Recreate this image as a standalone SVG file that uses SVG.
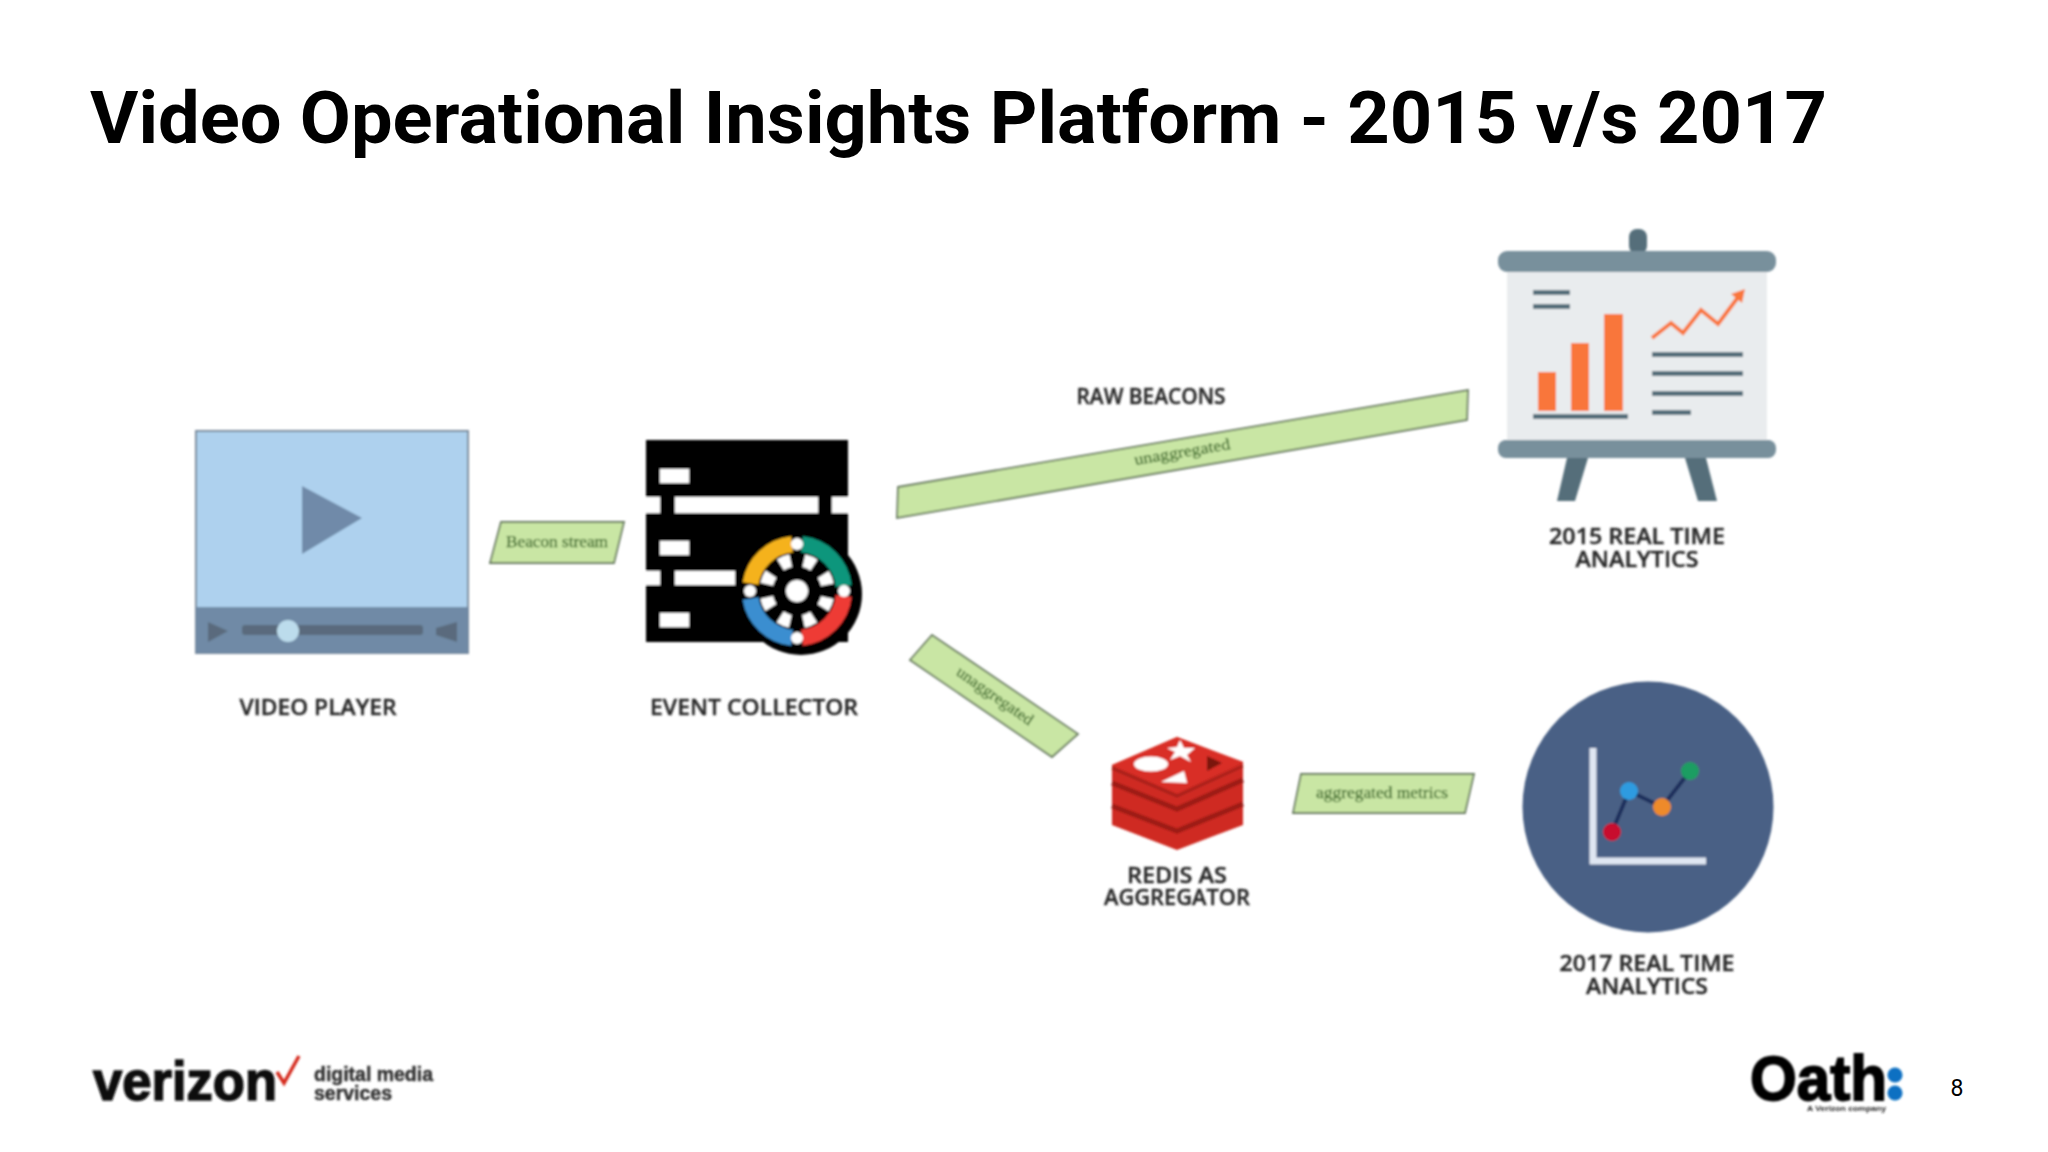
<svg xmlns="http://www.w3.org/2000/svg" width="2048" height="1152" viewBox="0 0 2048 1152">
<defs>
<filter id="soft" x="-5%" y="-5%" width="110%" height="110%"><feGaussianBlur stdDeviation="0.8"/></filter>
</defs>
<style>
.title{font-family:Roboto,"Liberation Sans",sans-serif;font-weight:700;font-size:72px;fill:#000}
.cap{font-family:"Open Sans","Liberation Sans",sans-serif;font-weight:600;font-size:22px;fill:#2b2b2b;stroke:#2b2b2b;stroke-width:.4;text-anchor:middle}
.edge{fill:#c9e6a4;stroke:#66795f;stroke-width:1.8}
.elabel{font-family:"Liberation Serif",serif;font-size:16px;fill:#3f6b2b;stroke:#3f6b2b;stroke-width:.25;text-anchor:middle}
.brd{fill:#78909c}
.dk{fill:#546e7a}
.or{fill:#f9763a}
.seg{fill:none;stroke-width:16}
.hole{fill:#fff}
.logo{font-family:"Liberation Sans",sans-serif;font-weight:700}
.band{fill:none;stroke:#9c1b13;stroke-width:5}
</style>
<rect width="2048" height="1152" fill="#fff"/>
<text class="title" x="90" y="143" textLength="1737" lengthAdjust="spacingAndGlyphs">Video Operational Insights Platform - 2015 v/s 2017</text>
<g filter="url(#soft)">
<g id="connectors">
<g id="edge-beacon-stream"><polygon class="edge" points="501,522 624,522 614,563 490,563"/><text class="elabel" x="557" y="547" textLength="102" lengthAdjust="spacingAndGlyphs">Beacon stream</text></g>
<g id="edge-raw"><polygon class="edge" points="898,487 1468,390 1467,420 897,518"/><text class="elabel" transform="translate(1183,457) rotate(-9.6)" textLength="97" lengthAdjust="spacingAndGlyphs">unaggregated</text></g>
<g id="edge-unaggregated"><polygon class="edge" points="932,635 1078,734 1052,757 910,660"/><text class="elabel" transform="translate(992,700) rotate(35)" textLength="90" lengthAdjust="spacingAndGlyphs">unaggregated</text></g>
<g id="edge-aggregated"><polygon class="edge" points="1301,774 1474,774 1465,813 1293,813"/><text class="elabel" x="1382" y="798" textLength="132" lengthAdjust="spacingAndGlyphs">aggregated metrics</text></g>
</g>
<g id="video-player">
<rect x="196" y="431" width="272" height="222" fill="#aed1ee" stroke="#7c8c9c" stroke-width="2"/>
<rect x="196" y="607" width="272" height="46" fill="#708aa6"/>
<polygon points="302,486 362,518 302,554" fill="#6f8aa9"/>
<polygon points="208,622 228,631 208,642" fill="#5a6b7d"/>
<rect x="242" y="625" width="181" height="10" rx="3" fill="#5a6b7d"/>
<circle cx="288" cy="631" r="11" fill="#bcdcec"/>
<polygon points="457,622 457,642 436,635 436,628" fill="#5a6b7d"/>
<text class="cap" x="318" y="715" textLength="157" lengthAdjust="spacingAndGlyphs">VIDEO PLAYER</text>
</g>
<g id="event-collector">
<rect x="646" y="440" width="202" height="202" fill="#000"/>
<g fill="#fff">
<rect x="660" y="469" width="29" height="14"/><rect x="660" y="541" width="29" height="14"/><rect x="660" y="613" width="29" height="14"/>
<rect x="646" y="497" width="14" height="16"/><rect x="675" y="497" width="143" height="16"/><rect x="832" y="497" width="16" height="16"/>
<rect x="646" y="571" width="14" height="14"/><rect x="675" y="571" width="60" height="14"/>
</g>
<circle cx="801" cy="594" r="61" fill="#000"/>
<circle cx="797" cy="591" r="31" fill="none" stroke="#fff" stroke-width="13" stroke-dasharray="11 13.35" stroke-dashoffset="-6.7"/>
<path class="seg" stroke="#f5b21d" d="M750.6,583.6A47,47 0 0 1 792.1,544.3"/>
<path class="seg" stroke="#11967b" d="M801.9,544.3A47,47 0 0 1 843.7,586.1"/>
<path class="seg" stroke="#ee3b34" d="M843.7,595.9A47,47 0 0 1 801.9,637.7"/>
<path class="seg" stroke="#3b8ed0" d="M792.1,637.7A47,47 0 0 1 750.6,598.4"/>
<g class="hole">
<circle cx="797" cy="591" r="11"/>
<circle cx="797" cy="544" r="6"/><circle cx="844" cy="591" r="6"/><circle cx="797" cy="638" r="6"/><circle cx="750" cy="591" r="6"/>
</g>
<text class="cap" x="754" y="715" textLength="208" lengthAdjust="spacingAndGlyphs">EVENT COLLECTOR</text>
</g>
<g id="analytics-2015">
<rect class="dk" x="1629" y="229" width="18" height="25" rx="8"/>
<rect x="1507" y="268" width="260" height="176" fill="#e9ecee"/>
<rect class="brd" x="1498" y="251" width="278" height="21" rx="9"/>
<rect class="brd" x="1498" y="440" width="278" height="18" rx="8"/>
<polygon class="dk" points="1567,458 1588,458 1575,501 1557,501"/>
<polygon class="dk" points="1685,458 1706,458 1717,501 1698,501"/>
<rect class="dk" x="1533" y="290" width="37" height="5"/><rect class="dk" x="1533" y="304" width="37" height="5"/>
<rect class="or" x="1538" y="372" width="18" height="39"/><rect class="or" x="1571" y="343" width="18" height="68"/><rect class="or" x="1604" y="314" width="19" height="97"/>
<rect class="dk" x="1533" y="414" width="95" height="5"/>
<rect class="dk" x="1652" y="352" width="91" height="5"/><rect class="dk" x="1652" y="371" width="91" height="5"/><rect class="dk" x="1652" y="391" width="91" height="5"/><rect class="dk" x="1652" y="410" width="39" height="5"/>
<polyline points="1652,338 1671,323 1683,333 1701,310 1718,324 1739,296" fill="none" stroke="#f9763a" stroke-width="4"/>
<polygon class="or" points="1745,289 1742,303 1731,294"/>
<text class="cap" x="1637" y="544" textLength="176" lengthAdjust="spacingAndGlyphs">2015 REAL TIME</text>
<text class="cap" x="1637" y="567" textLength="123" lengthAdjust="spacingAndGlyphs">ANALYTICS</text>
</g>
<g id="raw-beacons-label"><text class="cap" x="1151" y="404" textLength="149" lengthAdjust="spacingAndGlyphs">RAW BEACONS</text></g>
<g id="redis">
<polygon points="1112,765 1177,737 1243,762 1243,825 1177,850 1112,825" fill="#cf2a22"/>
<polyline class="band" points="1112,783 1177,809 1243,780"/>
<polyline class="band" points="1112,806 1177,831 1243,804"/>
<polyline points="1112,768 1177,796 1243,766" fill="none" stroke="#a8201a" stroke-width="3"/>
<polygon points="1112,765 1177,737 1243,762 1177,793" fill="#d92f26"/>
<ellipse cx="1151" cy="764" rx="17" ry="7.5" fill="#fff"/>
<polygon points="1180,740 1184,748 1195,748 1187,755 1191,762 1180,756 1170,760 1175,752 1167,748 1177,747" fill="#fff"/>
<polygon points="1207,756 1222,763 1207,771" fill="#7a1510"/>
<polygon points="1161,782 1184,771 1187,783" fill="#fff"/>
<text class="cap" x="1177" y="883" textLength="100" lengthAdjust="spacingAndGlyphs">REDIS AS</text>
<text class="cap" x="1177" y="905" textLength="146" lengthAdjust="spacingAndGlyphs">AGGREGATOR</text>
</g>
<g id="analytics-2017">
<circle cx="1648" cy="807" r="125.5" fill="#4a6185"/>
<path d="M1593,748V861H1706" fill="none" stroke="#dfe6f2" stroke-width="7"/>
<polyline points="1612,832 1629,791 1662,807 1690,771" fill="none" stroke="#1c2f5c" stroke-width="4"/>
<circle cx="1612" cy="832" r="9" fill="#c8102e"/>
<circle cx="1629" cy="791" r="9" fill="#2f9be0"/>
<circle cx="1662" cy="807" r="9" fill="#ee8a2c"/>
<circle cx="1690" cy="771" r="9" fill="#1f9d62"/>
<text class="cap" x="1647" y="971" textLength="175" lengthAdjust="spacingAndGlyphs">2017 REAL TIME</text>
<text class="cap" x="1647" y="994" textLength="122" lengthAdjust="spacingAndGlyphs">ANALYTICS</text>
</g>
</g>
<g id="verizon-logo" filter="url(#soft)">
<text class="logo" x="93" y="1100" font-size="56" textLength="184" lengthAdjust="spacingAndGlyphs" fill="#111" stroke="#111" stroke-width="1.6">verizon</text>
<polyline points="277,1072 284,1083 299,1056" fill="none" stroke="#d52b1e" stroke-width="3.5"/>
<text class="logo" x="314" y="1081" font-size="20" textLength="119" lengthAdjust="spacingAndGlyphs" fill="#333" stroke="#333" stroke-width=".5">digital media</text>
<text class="logo" x="314" y="1100" font-size="20" textLength="78" lengthAdjust="spacingAndGlyphs" fill="#333" stroke="#333" stroke-width=".5">services</text>
</g>
<g id="oath-logo" filter="url(#soft)">
<text class="logo" x="1750" y="1100" font-size="63" textLength="137" lengthAdjust="spacingAndGlyphs" fill="#000" stroke="#000" stroke-width="1.8">Oath</text>
<circle cx="1895" cy="1075" r="7.5" fill="#0a6fc2"/><circle cx="1895" cy="1093" r="7.5" fill="#0a6fc2"/>
<text class="logo" x="1807" y="1111" font-size="8" textLength="79" lengthAdjust="spacingAndGlyphs" fill="#222">A Verizon company</text>
</g>
<text id="page-number" x="1957" y="1096" text-anchor="middle" font-family="Roboto,'Liberation Sans',sans-serif" font-size="23" fill="#000">8</text>
</svg>
